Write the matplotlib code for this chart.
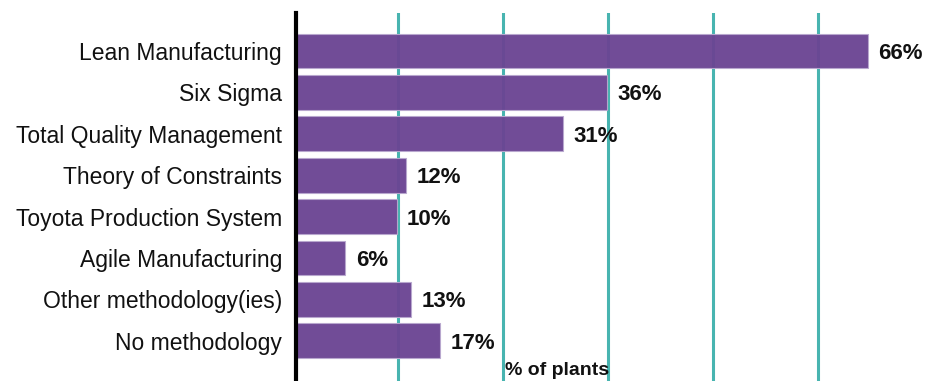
import matplotlib
matplotlib.use("Agg")
from matplotlib import pyplot as plt

categories = [
    "Lean Manufacturing",
    "Six Sigma",
    "Total Quality Management",
    "Theory of Constraints",
    "Toyota Production System",
    "Agile Manufacturing",
    "Other methodology(ies)",
    "No methodology",
]
# bar lengths as drawn in the source (labels are the rounded figures)
values = [66.0, 35.9, 30.8, 12.7, 11.6, 5.7, 13.3, 16.6]
value_labels = ["66%", "36%", "31%", "12%", "10%", "6%", "13%", "17%"]
xlabel = "% of plants"

BAR_COLOR = "#6b4593"
GRID_COLOR = "#48b4b0"


def main():
    plt.rcParams["font.family"] = ["Liberation Sans", "DejaVu Sans"]

    fig = plt.figure(figsize=(9.33, 3.81), dpi=100)
    ax = fig.add_axes([296 / 933, 0.0, 1 - 296 / 933, 1 - 13 / 381])

    px_per_unit = 8.67
    ax.set_xlim(0, 637 / px_per_unit)
    ax.set_ylim(7.97, -0.918)

    # vertical guide lines (roughly every 12 units)
    for gx in [11.8, 23.9, 36.0, 48.1, 60.2]:
        ax.axvline(gx, color=GRID_COLOR, lw=2.2, zorder=1)

    ypos = list(range(len(categories)))
    ax.barh(ypos, values, height=0.84, color=BAR_COLOR,
            edgecolor="#b9a8cf", linewidth=0.8, alpha=0.96, zorder=2)

    for y, v, lab in zip(ypos, values, value_labels):
        ax.text(v + 1.2, y + 0.06, lab, va="center", ha="left",
                fontsize=16, fontweight="bold", color="#111111")

    ax.set_yticks(ypos)
    ax.set_yticklabels(categories, fontsize=16.5, color="#111111")
    ax.tick_params(axis="y", length=0, pad=10)
    ax.set_xticks([])

    for s in ["top", "right", "bottom"]:
        ax.spines[s].set_visible(False)
    ax.spines["left"].set_linewidth(3)
    ax.spines["left"].set_color("black")
    ax.spines["left"].set_zorder(3)

    fig.text(557 / 933, 1 - 362 / 381, xlabel, ha="center", va="top",
             fontsize=14, fontweight="bold", color="#111111")

    fig.savefig("out.png", dpi=100)


if __name__ == "__main__":
    main()
